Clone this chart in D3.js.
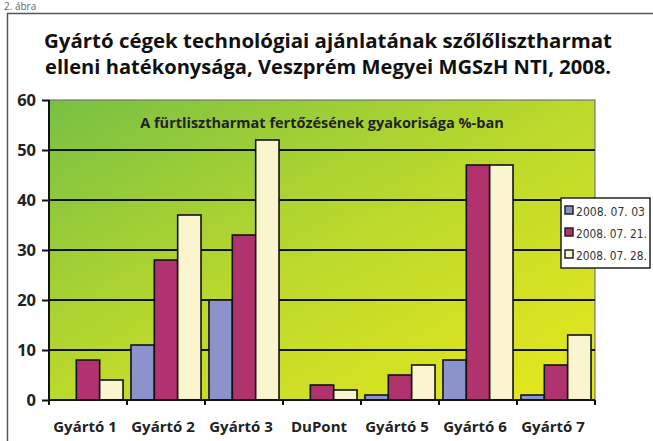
<!DOCTYPE html>
<html><head><meta charset="utf-8">
<script src="https://cdn.jsdelivr.net/npm/d3@7"></script>
<style>
body{margin:0;background:#fff;}
svg{display:block;}
</style></head>
<body>
<script>
const categories = ["Gyártó 1","Gyártó 2","Gyártó 3","DuPont","Gyártó 5","Gyártó 6","Gyártó 7"];
const seriesNames = ["2008. 07. 03","2008. 07. 21.","2008. 07. 28."];
const s0703 = [0,11,20,0,1,8,1];
const s0721 = [8,28,33,3,5,47,7];
const s0728 = [4,37,52,2,7,47,13];
const yTicks = [0,10,20,30,40,50,60];
const colors = ["#8c92cc","#b0326f","#fbf5cf"];
const titleLines = ["Gyártó cégek technológiai ajánlatának szőlőlisztharmat","elleni hatékonysága, Veszprém Megyei MGSzH NTI, 2008."];
const subtitle = "A fürtlisztharmat fertőzésének gyakorisága %-ban";

const W=653,H=441;
const svg=d3.select("body").append("svg").attr("width",W).attr("height",H);
const font="'Open Sans', 'DejaVu Sans', sans-serif";

// figure label
svg.append("text").attr("x",4).attr("y",10).attr("font-size",10).attr("fill","#666")
  .attr("font-family",font).text("2. ábra");
// frame
svg.append("rect").attr("x",7.5).attr("y",13.5).attr("width",660).attr("height",440)
  .attr("fill","none").attr("stroke","#555").attr("stroke-width",1.5);

// title
svg.selectAll("text.title").data(titleLines).join("text").attr("class","title")
  .attr("x",328).attr("y",(d,i)=>48+i*26).attr("text-anchor","middle")
  .attr("font-family",font).attr("font-weight","bold").attr("font-size",19.5)
  .attr("textLength",(d,i)=>i===0?568:566).attr("lengthAdjust","spacingAndGlyphs")
  .attr("fill","#111").text(d=>d);

const m={l:49,r:595,t:100,b:400};
const x=d3.scaleBand().domain(categories).range([m.l,m.r]).paddingInner(0).paddingOuter(0);
const y=d3.scaleLinear().domain([0,60]).range([m.b,m.t]);
const xs=d3.scaleBand().domain(seriesNames).range([0,x.bandwidth()]).paddingInner(0).paddingOuter(0.17);

const defs=svg.append("defs");
const g=defs.append("linearGradient").attr("id","bg").attr("x1","0").attr("y1","0").attr("x2","1").attr("y2","1");
g.append("stop").attr("offset","0%").attr("stop-color","#78c043");
g.append("stop").attr("offset","50%").attr("stop-color","#bcd92c");
g.append("stop").attr("offset","100%").attr("stop-color","#e8e81c");

svg.append("rect").attr("x",m.l).attr("y",m.t).attr("width",m.r-m.l).attr("height",m.b-m.t)
  .attr("fill","url(#bg)").attr("stroke","#777").attr("stroke-width",1.2);

// gridlines
svg.selectAll("line.grid").data(yTicks.filter(v=>v>0&&v<60)).join("line")
  .attr("x1",m.l).attr("x2",m.r).attr("y1",d=>y(d)).attr("y2",d=>y(d))
  .attr("stroke","#111").attr("stroke-width",2);

svg.append("text").attr("x",322).attr("y",128).attr("text-anchor","middle")
  .attr("font-family",font).attr("font-weight","bold").attr("font-size",14.5)
  .attr("fill","#222").text(subtitle);

// bars
const data=categories.map((c,i)=>({c,vals:[s0703[i],s0721[i],s0728[i]]}));
const gg=svg.append("g").selectAll("g").data(data).join("g").attr("transform",d=>`translate(${x(d.c)},0)`);
gg.selectAll("rect").data(d=>d.vals.map((v,j)=>({v,s:seriesNames[j],j}))).join("rect")
  .attr("x",d=>xs(d.s)).attr("width",xs.bandwidth())
  .attr("y",d=>y(d.v)).attr("height",d=>y(0)-y(d.v))
  .attr("fill",d=>colors[d.j]).attr("stroke",d=>d.v>0?"#111":"none").attr("stroke-width",1.6);

// y axis
const ya=svg.append("g").attr("transform",`translate(${m.l},0)`)
  .call(d3.axisLeft(y).tickValues(yTicks).tickSize(7).tickPadding(6));
ya.select(".domain").attr("stroke","#111").attr("stroke-width",2).attr("d",`M0,${m.t}V${m.b+5}`);
ya.selectAll(".tick line").attr("stroke","#111").attr("stroke-width",2);
ya.selectAll("text").attr("font-family",font).attr("font-weight","bold").attr("font-size",16.5).attr("fill","#222");

// x axis
const xa=svg.append("g").attr("transform",`translate(0,${m.b})`)
  .call(d3.axisBottom(x).tickSize(0).tickPadding(21));
xa.select(".domain").attr("stroke","#111").attr("stroke-width",2).attr("d",`M${m.l},0H${m.r}`);
xa.selectAll("text").attr("font-family",font).attr("font-weight","bold").attr("font-size",15).attr("fill","#222")
  .attr("dx",-3);
svg.append("g").selectAll("line").data(categories).join("line")
  .attr("x1",d=>x(d)+x.bandwidth()).attr("x2",d=>x(d)+x.bandwidth())
  .attr("y1",m.b).attr("y2",m.b+5).attr("stroke","#111").attr("stroke-width",2);

// legend
const lg=svg.append("g").attr("transform","translate(561,198)");
lg.append("rect").attr("x",0).attr("y",0).attr("width",89).attr("height",70)
  .attr("fill","#fff").attr("stroke","#222").attr("stroke-width",1.5);
const li=lg.selectAll("g").data(seriesNames).join("g").attr("transform",(d,i)=>`translate(4,${13+i*22})`);
li.append("rect").attr("x",0).attr("y",-5).attr("width",8).attr("height",8)
  .attr("fill",(d,i)=>colors[i]).attr("stroke","#222").attr("stroke-width",1.5);
li.append("text").attr("x",11).attr("y",4.5).attr("font-family","'Liberation Sans Narrow','DejaVu Sans',sans-serif")
  .attr("font-size",11.5).attr("textLength",(d,i)=>i===0?69:71).attr("lengthAdjust","spacingAndGlyphs")
  .attr("fill","#333").text(d=>d);
</script>
</body></html>
